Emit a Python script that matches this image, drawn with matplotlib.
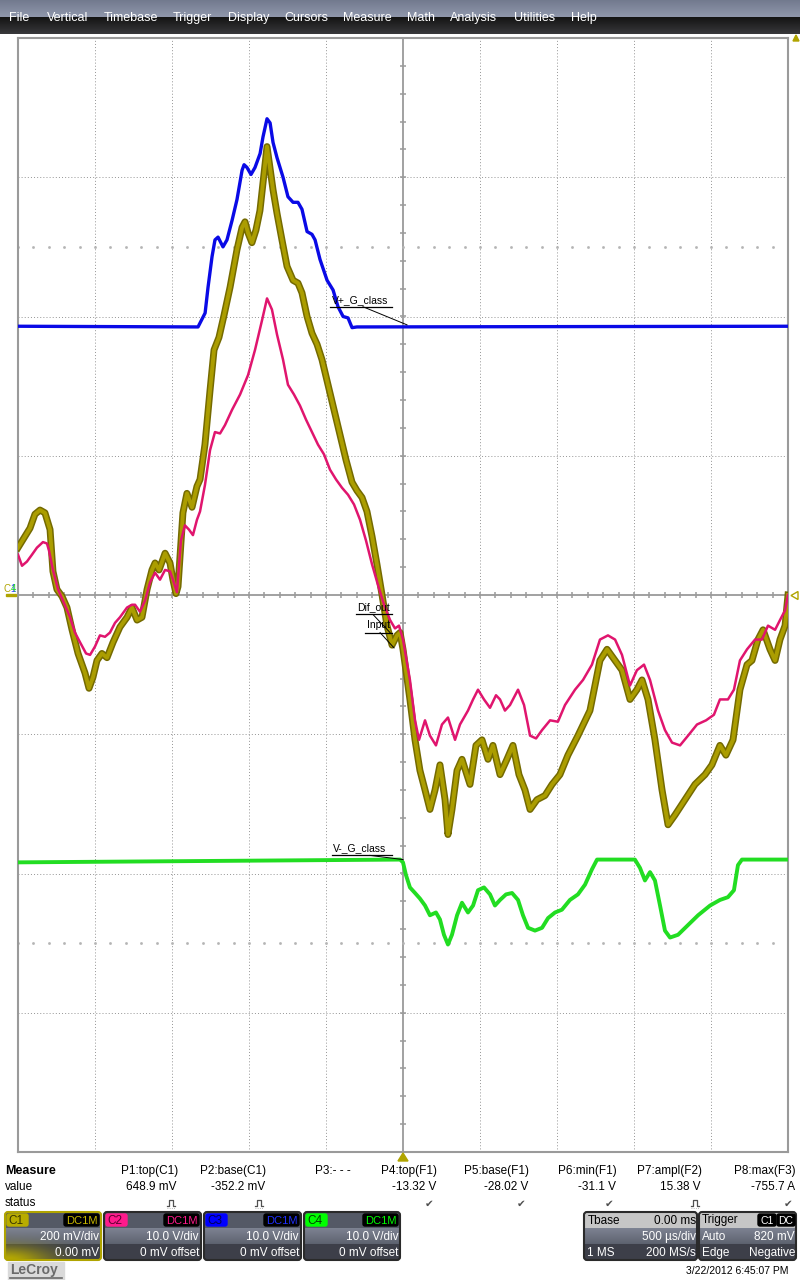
import numpy as np
import matplotlib
matplotlib.use('Agg')
import matplotlib.pyplot as plt
from matplotlib.patches import Rectangle, FancyBboxPatch, Polygon

plt.rcParams['font.family'] = ['Liberation Sans', 'DejaVu Sans']

# traces: time in us (500 us/div, trigger at 0), level in screen divisions
blue_t = [-2500, -1331, -1285, -1266, -1240, -1221, -1201, -1169, -1143, -1110, -1078, -1045,
          -1032, -1013, -987, -961, -928, -909, -883, -863, -844, -818, -779, -747, -714,
          -682, -656, -623, -591, -571, -539, -493, -454, -422, -389, -357, -331, -299, 2500]
blue_v = [1.93, 1.925, 2.025, 2.21, 2.43, 2.55, 2.57, 2.50, 2.55, 2.69, 2.84, 3.05,
          3.09, 3.07, 3.02, 3.07, 3.17, 3.29, 3.42, 3.39, 3.25, 3.14, 3.00, 2.86, 2.82,
          2.82, 2.77, 2.61, 2.59, 2.55, 2.41, 2.26, 2.19, 2.07, 2.00, 1.99, 1.92, 1.925, 1.93]

olive_t = [-2500, -2455, -2422, -2390, -2357, -2325, -2292, -2273, -2247, -2214, -2182, -2149,
           -2110, -2065, -2039, -2013, -1987, -1955, -1922, -1883, -1838, -1792, -1760, -1727,
           -1695, -1662, -1630, -1610, -1584, -1545, -1513, -1494, -1474, -1461, -1429, -1403,
           -1370, -1338, -1318, -1286, -1253, -1227, -1195, -1162, -1123, -1078, -1045, -1026,
           -1006, -981, -955, -929, -909, -883, -864, -844, -818, -786, -753, -714, -682, -656,
           -623, -591, -558, -526, -487, -448, -409, -370, -331, -299, -266, -234, -201, -169,
           -136, -104, -71, -39, -19, 0,
           45, 78, 110, 143, 175, 208, 240, 273, 292, 318, 351, 383, 435, 474, 513, 552, 584,
           630, 675, 714, 753, 792, 825, 870, 922, 968, 1019, 1071, 1136, 1214, 1279, 1325,
           1377, 1422, 1474, 1519, 1552, 1591, 1636, 1682, 1721, 1766, 1831, 1896, 1961, 2006,
           2058, 2097, 2143, 2188, 2234, 2266, 2305, 2338, 2383, 2416, 2448, 2481, 2500]
olive_v = [0.34, 0.42, 0.48, 0.58, 0.61, 0.59, 0.47, 0.17, 0.04, -0.01, -0.09, -0.25,
           -0.42, -0.56, -0.67, -0.59, -0.47, -0.42, -0.45, -0.34, -0.23, -0.16, -0.09, -0.18,
           -0.16, 0.04, 0.18, 0.23, 0.18, 0.30, 0.23, 0.11, 0.01, 0.06, 0.59, 0.73,
           0.63, 0.78, 0.83, 1.08, 1.47, 1.76, 1.85, 2.01, 2.21, 2.48, 2.64, 2.68,
           2.60, 2.53, 2.62, 2.76, 2.96, 3.22, 3.07, 2.91, 2.74, 2.55, 2.36, 2.26, 2.24, 2.17,
           2.00, 1.88, 1.80, 1.69, 1.51, 1.33, 1.15, 0.97, 0.81, 0.75, 0.70, 0.60, 0.42, 0.22,
           0.00, -0.22, -0.36, -0.29, -0.27, -0.39,
           -0.75, -1.04, -1.26, -1.40, -1.54, -1.40, -1.22, -1.47, -1.72, -1.54, -1.26, -1.18,
           -1.36, -1.08, -1.04, -1.18, -1.08, -1.29, -1.18, -1.08, -1.29, -1.40, -1.54, -1.47,
           -1.44, -1.36, -1.29, -1.15, -1.01, -0.83, -0.47, -0.39, -0.47, -0.54, -0.75, -0.68,
           -0.61, -0.75, -1.04, -1.40, -1.65, -1.58, -1.47, -1.36, -1.29, -1.22, -1.08, -1.15,
           -1.04, -0.68, -0.50, -0.47, -0.32, -0.25, -0.39, -0.47, -0.32, -0.22, 0.00]

pink_t = [-2500, -2474, -2442, -2409, -2377, -2338, -2312, -2299, -2273, -2240, -2208, -2162,
          -2130, -2097, -2058, -2032, -2000, -1968, -1935, -1903, -1870, -1838, -1792, -1760,
          -1740, -1708, -1675, -1643, -1610, -1578, -1545, -1513, -1494, -1468, -1442, -1416,
          -1390, -1364, -1338, -1318, -1286, -1253, -1221, -1188, -1156, -1110, -1058, -1006,
          -961, -916, -883, -851, -818, -779, -747, -708, -669, -630, -591, -552, -513, -474,
          -435, -396, -357, -318, -279, -240, -201, -162, -123, -84, -52, -26, 0,
          45, 78, 104, 143, 175, 214, 253, 292, 338, 370, 422, 455, 487, 526, 565, 604, 630,
          662, 695, 747, 786, 825, 864, 903, 955, 1006, 1052, 1117, 1169, 1227, 1279, 1331,
          1377, 1422, 1474, 1519, 1565, 1604, 1656, 1701, 1747, 1799, 1851, 1909, 1968, 2019,
          2058, 2110, 2149, 2188, 2234, 2286, 2331, 2370, 2416, 2448, 2481, 2500]
pink_v = [0.29, 0.21, 0.24, 0.29, 0.34, 0.38, 0.37, 0.32, 0.18, 0.04, -0.04, -0.16,
          -0.27, -0.34, -0.42, -0.43, -0.37, -0.29, -0.30, -0.27, -0.20, -0.16, -0.09, -0.07,
          -0.07, -0.12, -0.04, 0.09, 0.16, 0.11, 0.18, 0.17, 0.11, 0.02, 0.39, 0.50,
          0.47, 0.43, 0.54, 0.60, 0.79, 1.04, 1.17, 1.16, 1.22, 1.33, 1.44, 1.58,
          1.76, 1.97, 2.13, 2.05, 1.87, 1.69, 1.51, 1.44, 1.36, 1.26, 1.17, 1.08, 1.01, 0.90,
          0.83, 0.77, 0.72, 0.65, 0.54, 0.39, 0.22, 0.07, -0.07, -0.18, -0.24, -0.22, -0.32,
          -0.61, -0.90, -1.04, -0.90, -1.01, -1.08, -0.93, -0.88, -1.04, -0.93, -0.83, -0.75,
          -0.68, -0.75, -0.81, -0.72, -0.75, -0.83, -0.79, -0.68, -0.79, -1.01, -1.03, -0.97,
          -0.90, -0.91, -0.79, -0.68, -0.61, -0.50, -0.32, -0.29, -0.32, -0.43, -0.65, -0.54,
          -0.50, -0.61, -0.83, -0.97, -1.06, -1.08, -1.01, -0.93, -0.90, -0.86, -0.75, -0.75,
          -0.68, -0.47, -0.39, -0.32, -0.32, -0.22, -0.25, -0.18, -0.11, 0.00]

green_t = [-2500, -19, 0, 19, 45, 78, 110, 143, 175, 214, 240, 266, 292, 318, 351, 383, 422,
           455, 487, 526, 565, 597, 630, 669, 708, 747, 779, 812, 857, 903, 942, 987, 1032,
           1084, 1136, 1182, 1227, 1260, 1506, 1539, 1571, 1604, 1636, 1669, 1701, 1734, 1786,
           1851, 1916, 1994, 2058, 2110, 2149, 2175, 2201, 2500]
green_v = [-1.92, -1.90, -1.92, -2.01, -2.10, -2.14, -2.18, -2.23, -2.30, -2.28, -2.33, -2.44,
           -2.51, -2.44, -2.30, -2.21, -2.28, -2.23, -2.12, -2.10, -2.15, -2.23, -2.19, -2.15,
           -2.14, -2.19, -2.30, -2.39, -2.41, -2.39, -2.32, -2.28, -2.26, -2.19, -2.15, -2.08,
           -1.97, -1.90, -1.90, -1.96, -2.05, -1.99, -2.05, -2.23, -2.41, -2.46, -2.44, -2.37,
           -2.30, -2.23, -2.19, -2.17, -2.12, -1.94, -1.90, -1.90]

menu_items = ['File', 'Vertical', 'Timebase', 'Trigger', 'Display', 'Cursors', 'Measure',
              'Math', 'Analysis', 'Utilities', 'Help']
menu_x = [9, 47, 104, 173, 228, 284, 343, 407, 450, 514, 571]

param_names = ['P1:top(C1)', 'P2:base(C1)', 'P3:- - -', 'P4:top(F1)', 'P5:base(F1)',
               'P6:min(F1)', 'P7:ampl(F2)', 'P8:max(F3)']
param_values = ['648.9 mV', '-352.2 mV', '', '-13.32 V', '-28.02 V', '-31.1 V', '15.38 V',
                '-755.7 A']
param_status = ['pulse', 'pulse', '', 'ok', 'ok', 'ok', 'pulse', 'ok']
param_right = [178, 266, 353, 437, 529, 617, 702, 796]

W, H = 800, 1280
fig = plt.figure(figsize=(8, 12.8), dpi=100)


def rect(x0, y0, x1, y1):
    return [x0 / W, 1 - y1 / H, (x1 - x0) / W, (y1 - y0) / H]


# ---- scope grid ----
ax = fig.add_axes(rect(18, 38, 788, 1152))
ax.set_xlim(-2500, 2500)
ax.set_ylim(-4, 4)
ax.set_xticks([])
ax.set_yticks([])
for s in ax.spines.values():
    s.set_color('#9a9a9a')
    s.set_linewidth(1.5)

gc = '#949494'
for xv in np.arange(-2000, 2001, 500):
    if xv != 0:
        ax.axvline(xv, color=gc, lw=0.7, ls=(0, (1, 2.2)), zorder=1)
for yv in range(-3, 4):
    if yv != 0:
        ax.axhline(yv, color=gc, lw=0.7, ls=(0, (1, 2.2)), zorder=1)
ax.axhline(0, color='#9a9a9a', lw=1.3, zorder=1)
ax.axvline(0, color='#9a9a9a', lw=1.3, zorder=1)
ax.vlines(np.arange(-2500, 2501, 100), -0.022, 0.022, color='#9a9a9a', lw=1.1, zorder=1)
ax.hlines(np.arange(-4, 4.01, 0.2), -20, 20, color='#9a9a9a', lw=1.1, zorder=1)
xs = np.arange(-2500, 2501, 100)
for yv in (2.5, -2.5):
    ax.plot(xs, np.full(len(xs), yv), ls='none', marker='s', ms=0.9, color='#b4b4b4', zorder=1)

# ---- traces ----
ax.plot(blue_t, blue_v, color='#0a0ae6', lw=2.4, zorder=3)
ax.plot(green_t, green_v, color='#22dd22', lw=2.8, zorder=3)
ax.plot(olive_t, olive_v, color='#746a00', lw=5.0, zorder=3, solid_joinstyle='round')
ax.plot(olive_t, olive_v, color='#ab9d00', lw=2.8, zorder=3)
ax.plot(pink_t, pink_v, color='#e0156e', lw=1.8, zorder=4)

# trace labels
lab = dict(fontsize=7.5, color='black', zorder=6)
ax.text(-461, 2.08, 'V+_G_class', va='bottom', **lab)
ax.plot([-474, -71], [2.07, 2.07], color='black', lw=0.9, zorder=6)
ax.plot([-260, 26], [2.07, 1.94], color='black', lw=0.7, zorder=6)
ax.text(-299, -0.12, 'Dif_out', va='bottom', **lab)
ax.plot([-305, -71], [-0.14, -0.14], color='black', lw=0.9, zorder=6)
ax.plot([-195, -84], [-0.14, -0.27], color='black', lw=0.7, zorder=6)
ax.text(-234, -0.25, 'Input', va='bottom', **lab)
ax.plot([-247, -71], [-0.27, -0.27], color='black', lw=0.9, zorder=6)
ax.plot([-149, -58], [-0.27, -0.38], color='black', lw=0.7, zorder=6)
ax.text(-455, -1.855, 'V-_G_class', va='bottom', **lab)
ax.plot([-461, -71], [-1.87, -1.87], color='black', lw=0.9, zorder=6)
ax.plot([-214, 0], [-1.87, -1.90], color='black', lw=0.7, zorder=6)

# ---- screen chrome in pixel coordinates ----
ui = fig.add_axes([0, 0, 1, 1], zorder=5)
ui.axis('off')
ui.patch.set_alpha(0)

top = np.linspace([0.45, 0.48, 0.56], [0.56, 0.59, 0.67], 17)
bot = np.linspace([0.08, 0.08, 0.08], [0.22, 0.22, 0.23], 17)
ui.imshow(np.vstack([top, bot])[:, None, :], extent=[0, 800, 34, 0], aspect='auto',
          interpolation='bilinear')
for name, x in zip(menu_items, menu_x):
    ui.text(x, 18, name, color='white', fontsize=9, va='center', ha='left')

# channel / trigger markers
ui.text(4, 589, 'C', color='#b0a400', fontsize=7, va='center')
ui.text(10, 589, '1', color='#3040ff', fontsize=7, va='center')
ui.text(10.5, 589, '4', color='#22dd22', fontsize=7, va='center')
ui.add_patch(Rectangle((6, 593.5), 10, 2.5, color='#b0a400'))
ui.add_patch(Polygon([(798, 591.5), (798, 599.5), (791, 595.5)], closed=True, fill=False,
                     edgecolor='#b0a400', lw=1))
ui.add_patch(Polygon([(398, 1161), (408, 1161), (403, 1153)], closed=True, color='#b0a400'))
ui.add_patch(Polygon([(793, 41), (799, 41), (796, 35)], closed=True, color='#b0a400'))

# measurement table
ui.text(5, 1171, 'Measure', fontweight='bold', fontsize=9, va='center')
ui.text(5, 1187, 'value', fontsize=8.5, va='center')
ui.text(5, 1203, 'status', fontsize=8.5, va='center')
for name, val, st, xr in zip(param_names, param_values, param_status, param_right):
    if name.startswith('P3'):
        ui.text(315, 1171, name, fontsize=8.5, va='center', ha='left')
    else:
        ui.text(xr, 1171, name, fontsize=8.5, va='center', ha='right')
    ui.text(xr - 1, 1187, val, fontsize=8.5, va='center', ha='right')
    if st == 'ok':
        ui.text(xr - 3, 1204, '\u2714', fontsize=7.5, color='#505050', va='center',
                ha='right', family=['DejaVu Sans'])
    elif st == 'pulse':
        cx = xr - 7
        ui.plot([cx - 4, cx - 2, cx - 2, cx + 2, cx + 2, cx + 4],
                [1206, 1206, 1200, 1200, 1206, 1206], color='#505050', lw=0.9)
        ui.plot([cx - 4, cx + 4], [1208, 1208], color='#a0a0a0', lw=0.6, ls=':')


def panel(x0, x1, border='#2a2a2a', glow=False, light_top=False):
    y0, y1 = 1212, 1260
    ny, nx = 48, int(x1 - x0)
    rows = np.zeros((ny, 3))
    for i in range(ny):
        if i < 16:
            c = np.array([0.78, 0.78, 0.78]) if light_top else np.array([0.33, 0.35, 0.40])
        elif i < 32:
            f = (i - 16) / 16
            c = np.array([0.49, 0.51, 0.57]) * (1 - f) + np.array([0.36, 0.38, 0.43]) * f
        else:
            c = np.array([0.24, 0.25, 0.29])
        rows[i] = c
    img = np.repeat(rows[:, None, :], nx, axis=1)
    if glow:
        yy, xx = np.mgrid[0:ny, 0:nx]
        w = np.exp(-((xx / 45.0) ** 2 + ((ny - yy) / 14.0) ** 2))[:, :, None]
        img = img * (1 - w) + np.array([0.72, 0.67, 0.0]) * w
    im = ui.imshow(img, extent=[x0, x1, y1, y0], aspect='auto', interpolation='bilinear')
    box = FancyBboxPatch((x0, y0), x1 - x0, y1 - y0, boxstyle='round,pad=0,rounding_size=3',
                         fill=False, edgecolor=border, lw=1.5)
    ui.add_patch(box)
    im.set_clip_path(box)


chans = [('C1', 5, 101, '#b8ac00', '#3a3600', '#c8b800', '200 mV/div', '0.00 mV'),
         ('C2', 104, 201, '#ff1a8c', '#5a0030', '#ff1a8c', '10.0 V/div', '0 mV offset'),
         ('C3', 204, 301, '#0000ff', '#000050', '#2030ff', '10.0 V/div', '0 mV offset'),
         ('C4', 304, 400, '#00ff00', '#004000', '#00ff00', '10.0 V/div', '0 mV offset')]
for tag, x0, x1, tc, ttc, dcc, l2, l3 in chans:
    panel(x0, x1, border='#b0a400' if tag == 'C1' else '#2a2a2a', glow=(tag == 'C1'))
    ui.add_patch(FancyBboxPatch((x0 + 2, 1214), 21, 12, boxstyle='round,pad=0,rounding_size=2',
                                color=tc))
    ui.text(x0 + 3, 1220.5, tag, color=ttc, fontsize=8.5, va='center')
    ui.add_patch(FancyBboxPatch((x1 - 37, 1214), 35, 12, boxstyle='round,pad=0,rounding_size=2',
                                color='black'))
    ui.text(x1 - 3, 1220.5, 'DC1M', color=dcc, fontsize=8, va='center', ha='right')
    ui.text(x1 - 2, 1237, l2, color='white', fontsize=8.5, va='center', ha='right')
    ui.text(x1 - 2, 1253, l3, color='white', fontsize=8.5, va='center', ha='right')

panel(584, 697, light_top=True)
ui.text(588, 1220.5, 'Tbase', fontsize=8.5, va='center')
ui.text(696, 1220.5, '0.00 ms', fontsize=8.5, va='center', ha='right')
ui.text(696, 1237, '500 \u00b5s/div', color='white', fontsize=8.5, va='center', ha='right')
ui.text(587, 1253, '1 MS', color='white', fontsize=8.5, va='center')
ui.text(696, 1253, '200 MS/s', color='white', fontsize=8.5, va='center', ha='right')

panel(699, 796, light_top=True)
ui.text(702, 1220.5, 'Trigger', fontsize=8.5, va='center')
ui.add_patch(FancyBboxPatch((758, 1214), 18, 12, boxstyle='round,pad=0,rounding_size=2',
                            color='black'))
ui.text(767, 1220.5, 'C1', color='white', fontsize=7.5, va='center', ha='center')
ui.add_patch(FancyBboxPatch((777, 1214), 18, 12, boxstyle='round,pad=0,rounding_size=2',
                            color='black'))
ui.text(786, 1220.5, 'DC', color='white', fontsize=7.5, va='center', ha='center')
ui.text(702, 1237, 'Auto', color='white', fontsize=8.5, va='center')
ui.text(795, 1237, '820 mV', color='white', fontsize=8.5, va='center', ha='right')
ui.text(702, 1253, 'Edge', color='white', fontsize=8.5, va='center')
ui.text(795, 1253, 'Negative', color='white', fontsize=8.5, va='center', ha='right')

ui.text(789, 1271, '3/22/2012 6:45:07 PM', fontsize=7.5, va='center', ha='right')

ui.add_patch(Rectangle((8, 1262), 56, 18, color='#dadada'))
ui.text(10, 1270, 'LeCroy', fontweight='bold', fontsize=10, color='#6a6a6a', va='center')
ui.plot([10, 62], [1278, 1278], color='#6a6a6a', lw=1.2)

ui.set_xlim(0, 800)
ui.set_ylim(1280, 0)

fig.savefig('out.png', dpi=100, facecolor='white')
